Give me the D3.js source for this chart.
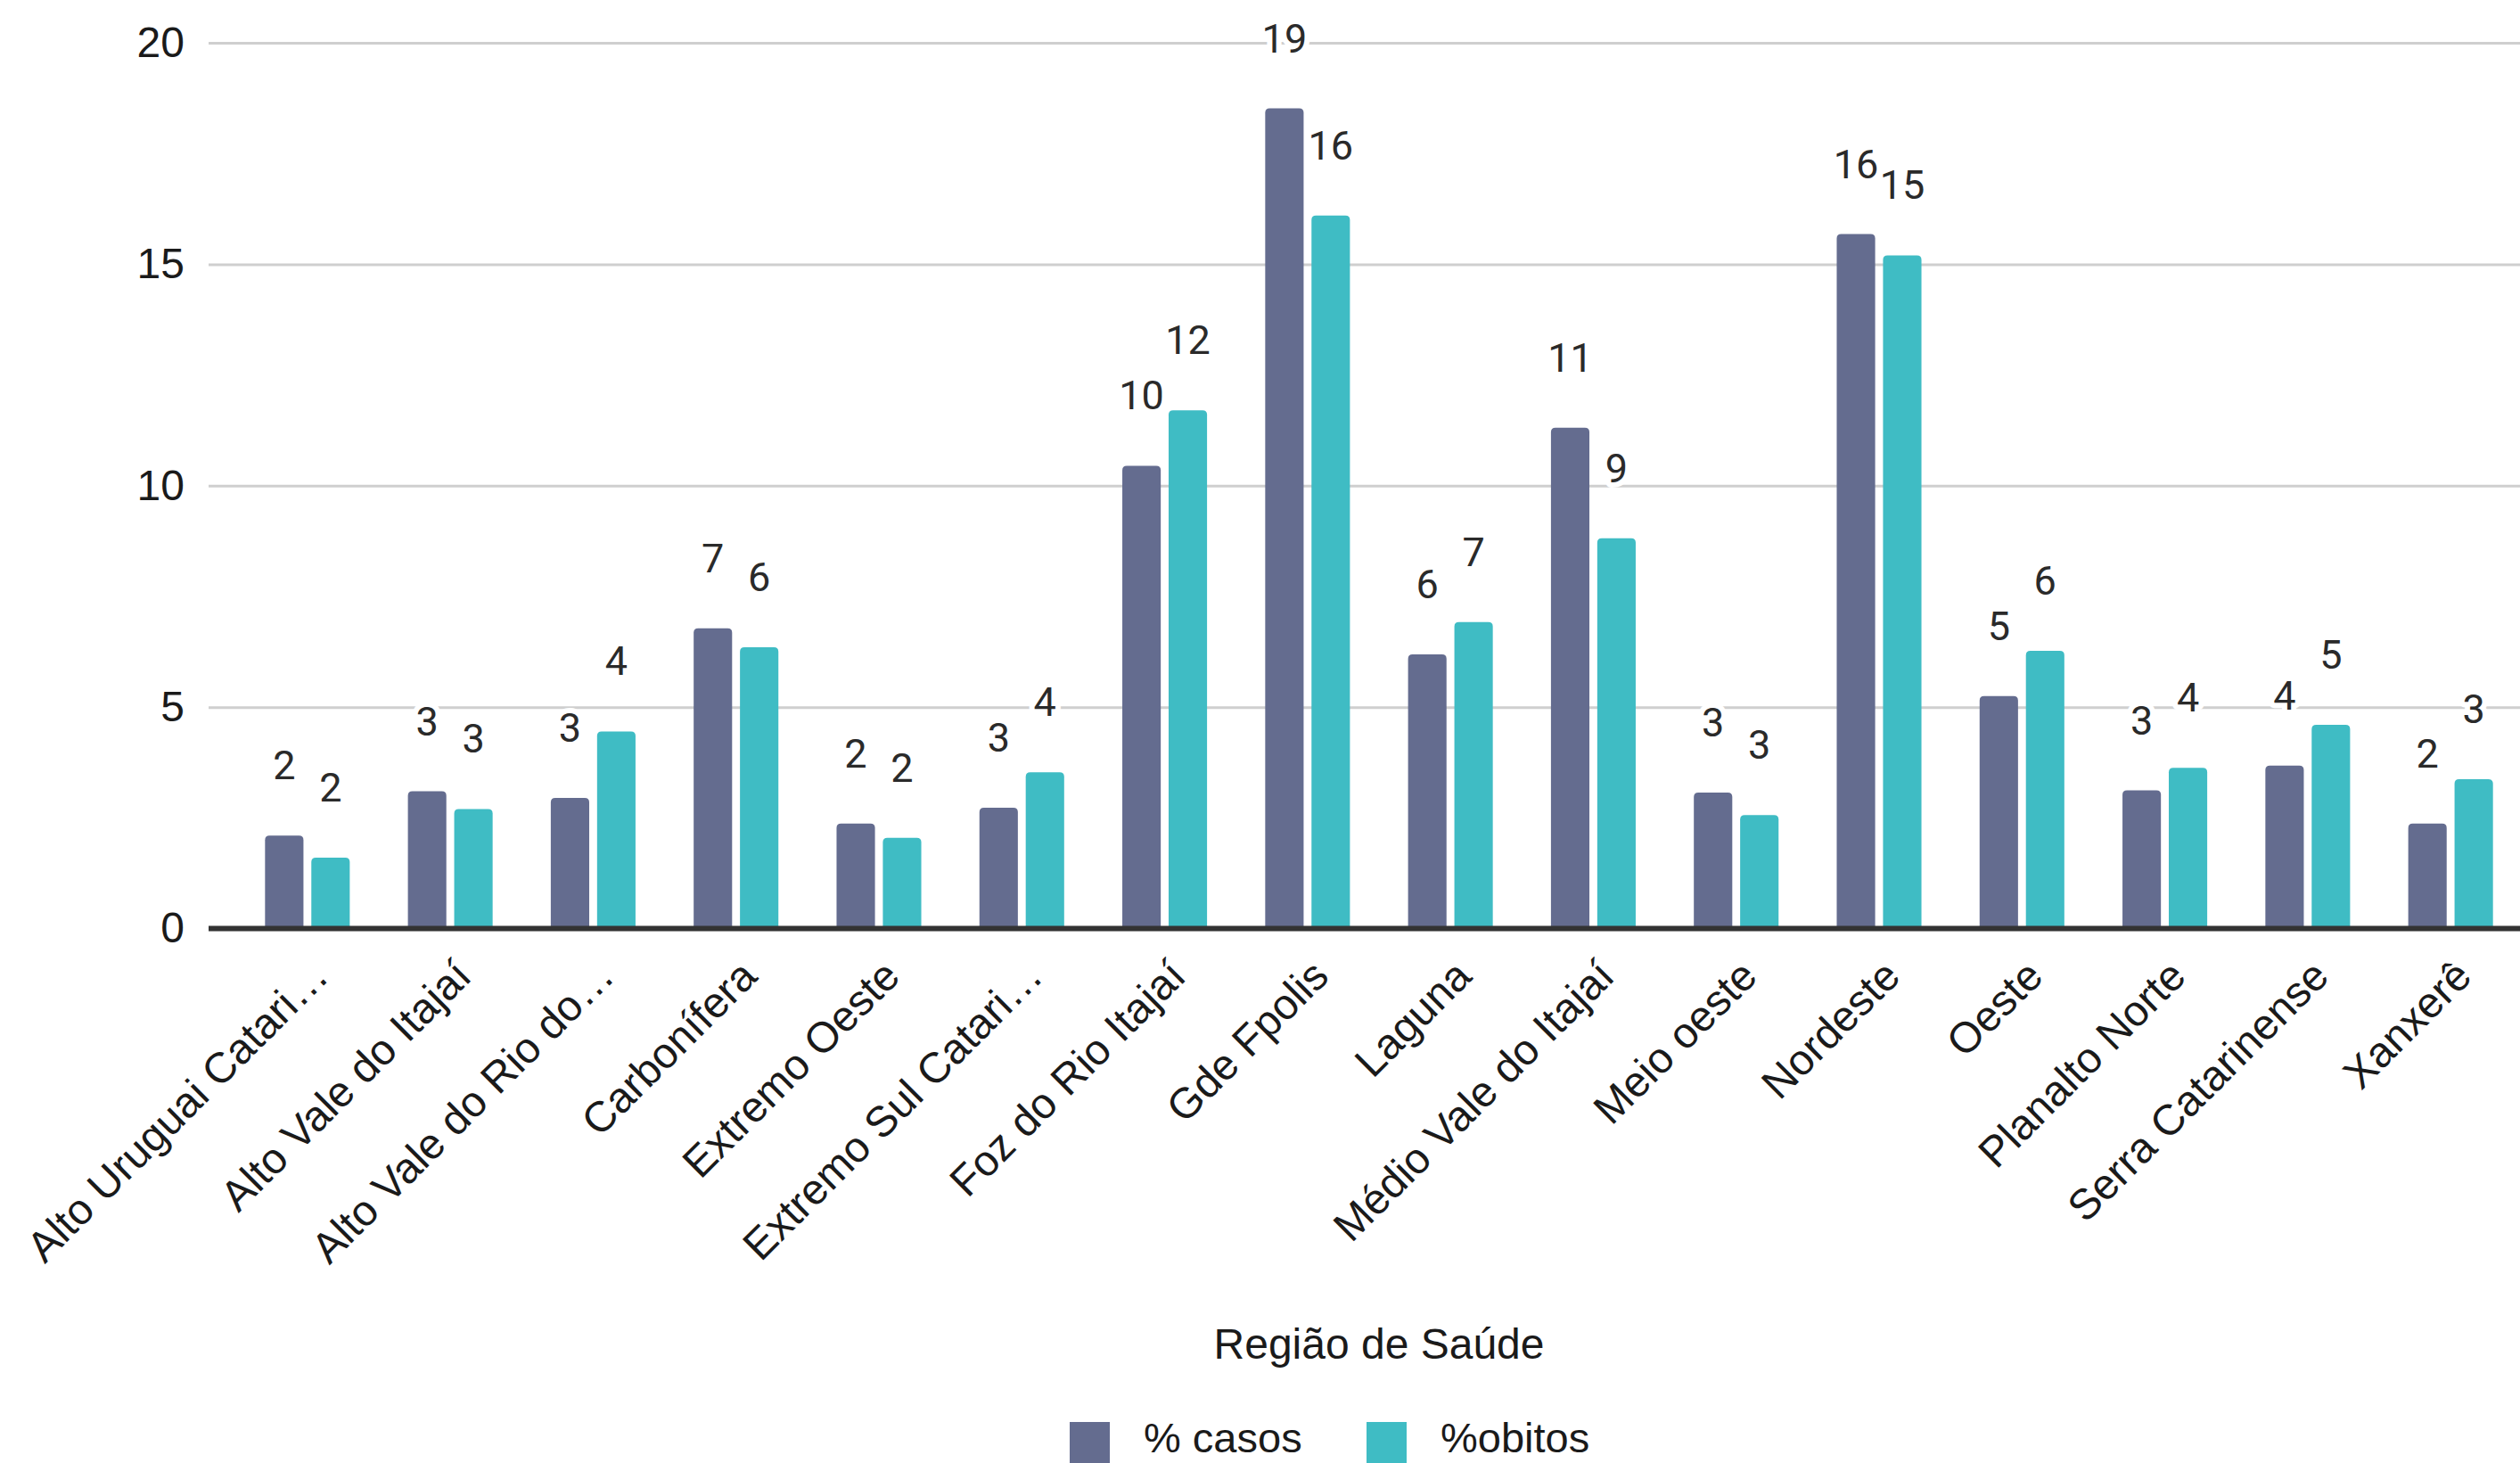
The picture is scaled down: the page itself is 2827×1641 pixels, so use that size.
<!DOCTYPE html>
<html>
<head>
<meta charset="utf-8">
<script src="https://cdn.jsdelivr.net/npm/d3@7"></script>
<style>
  html, body { margin: 0; padding: 0; background: #ffffff; }
  svg { display: block; }
</style>
</head>
<body>
<svg id="chart" width="2827" height="1641"></svg>
<script>
// Regiões de saúde de Santa Catarina
const categories = [
  "Alto Uruguai Catari\u2026",
  "Alto Vale do Itajaí",
  "Alto Vale do Rio do\u2026",
  "Carbonífera",
  "Extremo Oeste",
  "Extremo Sul Catari\u2026",
  "Foz do Rio Itajaí",
  "Gde Fpolis",
  "Laguna",
  "Médio Vale do Itajaí",
  "Meio oeste",
  "Nordeste",
  "Oeste",
  "Planalto Norte",
  "Serra Catarinense",
  "Xanxerê"
];

// Percentual de casos por região
const casos = [2.1, 3.1, 2.95, 6.78, 2.37, 2.73, 10.45, 18.52, 6.19, 11.31, 3.07, 15.68, 5.25, 3.12, 3.68, 2.37];

// Percentual de óbitos por região
const obitos = [1.6, 2.7, 4.45, 6.35, 2.05, 3.53, 11.7, 16.1, 6.92, 8.81, 2.56, 15.2, 6.27, 3.63, 4.6, 3.37];

const seriesNames = ["% casos", "%obitos"];
const seriesColors = ["#646c8f", "#3fbcc4"];
const yTicks = [0, 5, 10, 15, 20];
const axisTitle = "Região de Saúde";

const svg = d3.select("#chart");

const plot = { left: 234, right: 2860, top: 48, bottom: 1041.5 };

const x0 = d3.scaleBand()
  .domain(categories)
  .range([plot.left, plot.right])
  .paddingInner(0.407)
  .paddingOuter(0.395);

const x1 = d3.scaleBand()
  .domain(seriesNames)
  .range([0, x0.bandwidth()])
  .paddingInner(0.17);

const y = d3.scaleLinear()
  .domain([0, 20])
  .range([plot.bottom, plot.top]);

const color = d3.scaleOrdinal().domain(seriesNames).range(seriesColors);

const labelFont = "'Liberation Sans', Arial, Helvetica, sans-serif";
const valueFont = "Roboto, 'Liberation Sans', sans-serif";

// Gridlines and y tick labels via the axis generator
const yAxis = d3.axisLeft(y)
  .tickValues(yTicks)
  .tickSize(-(plot.right - plot.left))
  .tickPadding(27)
  .tickFormat(d3.format("d"));

const gy = svg.append("g")
  .attr("transform", `translate(${plot.left},0)`)
  .call(yAxis);
gy.select(".domain").remove();
gy.selectAll(".tick line")
  .attr("stroke", "#cfcfcf")
  .attr("stroke-width", 3);
gy.selectAll(".tick text")
  .attr("font-family", labelFont)
  .attr("font-size", 48)
  .attr("fill", "#1a1a1a");

// Rows of data per category
const rows = categories.map((c, i) => ({
  category: c,
  values: [
    { key: seriesNames[0], value: casos[i] },
    { key: seriesNames[1], value: obitos[i] }
  ]
}));

// Value labels (drawn with a white halo so gridlines break behind them)
const fmt = d3.format(".0f");
const labelGroups = svg.append("g")
  .selectAll("g")
  .data(rows)
  .join("g")
  .attr("transform", d => `translate(${x0(d.category)},0)`);

labelGroups.selectAll("text")
  .data(d => d.values)
  .join("text")
  .attr("x", d => x1(d.key) + x1.bandwidth() / 2)
  .attr("y", d => y(d.value) - 63)
  .attr("text-anchor", "middle")
  .attr("font-family", valueFont)
  .attr("font-size", 45)
  .attr("fill", "#2a2a2a")
  .attr("stroke", "#ffffff")
  .attr("stroke-width", 12)
  .attr("stroke-linejoin", "round")
  .attr("paint-order", "stroke")
  .text(d => fmt(d.value));

// Bars with slightly rounded top corners
function roundedTopBar(x, yTop, w, h, r) {
  r = Math.min(r, w / 2, h);
  return `M${x},${yTop + h}` +
    `V${yTop + r}` +
    `Q${x},${yTop} ${x + r},${yTop}` +
    `H${x + w - r}` +
    `Q${x + w},${yTop} ${x + w},${yTop + r}` +
    `V${yTop + h}Z`;
}

const barGroups = svg.append("g")
  .selectAll("g")
  .data(rows)
  .join("g")
  .attr("transform", d => `translate(${x0(d.category)},0)`);

barGroups.selectAll("path")
  .data(d => d.values)
  .join("path")
  .attr("fill", d => color(d.key))
  .attr("d", d => roundedTopBar(
    x1(d.key), y(d.value), x1.bandwidth(), y(0) - y(d.value), 5));

// Baseline
svg.append("line")
  .attr("x1", plot.left)
  .attr("x2", plot.right)
  .attr("y1", y(0))
  .attr("y2", y(0))
  .attr("stroke", "#333333")
  .attr("stroke-width", 6);

// Category labels, rotated
const xAxis = d3.axisBottom(x0).tickSize(0).tickPadding(0);
const gx = svg.append("g")
  .attr("transform", `translate(0,${y(0)})`)
  .call(xAxis);
gx.select(".domain").remove();
gx.selectAll(".tick text")
  .attr("font-family", labelFont)
  .attr("font-size", 48)
  .attr("fill", "#1a1a1a")
  .attr("text-anchor", "end")
  .attr("dy", null)
  .attr("y", 0)
  .attr("transform", "translate(26,56) rotate(-45)");

// Axis title
svg.append("text")
  .attr("x", (plot.left + plot.right) / 2)
  .attr("y", 1524)
  .attr("text-anchor", "middle")
  .attr("font-family", labelFont)
  .attr("font-size", 48)
  .attr("fill", "#1a1a1a")
  .text(axisTitle);

// Legend
const legendItems = [
  { key: seriesNames[0], x: 1200 },
  { key: seriesNames[1], x: 1533 }
];
const legend = svg.append("g");
const li = legend.selectAll("g")
  .data(legendItems)
  .join("g")
  .attr("transform", d => `translate(${d.x},1595)`);
li.append("rect")
  .attr("width", 45)
  .attr("height", 46)
  .attr("fill", d => color(d.key));
li.append("text")
  .attr("x", 83)
  .attr("y", 34)
  .attr("font-family", labelFont)
  .attr("font-size", 47)
  .attr("fill", "#1a1a1a")
  .text(d => d.key);
</script>
</body>
</html>
